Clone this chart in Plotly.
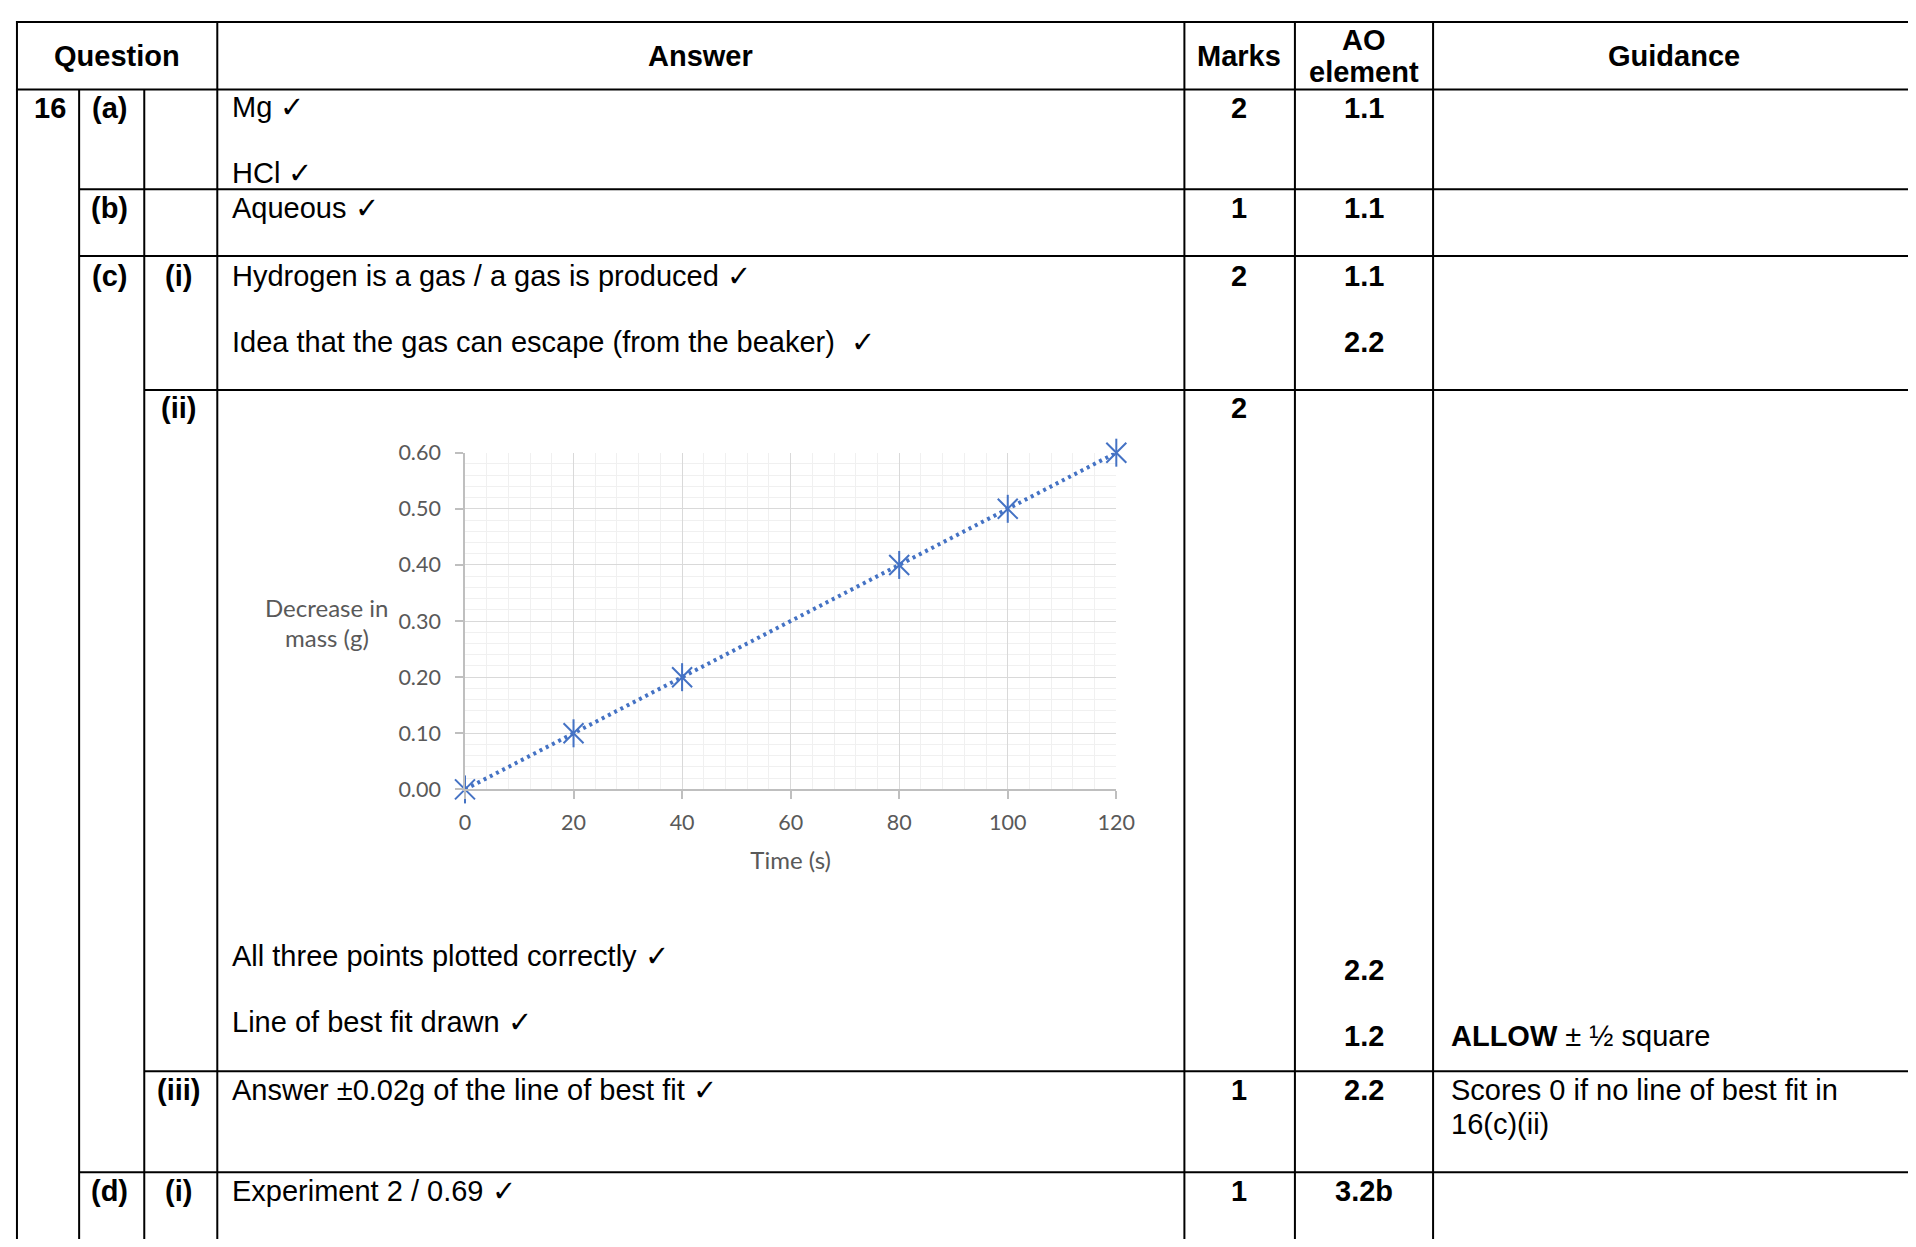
import plotly.graph_objects as go

# ---------------- data ----------------
time_s = [0, 20, 40, 80, 100, 120]
mass_decrease_g = [0.00, 0.10, 0.20, 0.40, 0.50, 0.60]
x_ticks = [0, 20, 40, 60, 80, 100, 120]
y_ticks = [0.0, 0.1, 0.2, 0.3, 0.4, 0.5, 0.6]

header_cells = ["Question", "Answer", "Marks", "AO", "element", "Guidance"]
col1_text = ["16"]
col2_text = ["(a)", "(b)", "(c)", "(d)"]
col3_text = ["(i)", "(ii)", "(iii)", "(i)"]
answer_text = [
    "Mg ✓", "HCl ✓", "Aqueous ✓",
    "Hydrogen is a gas / a gas is produced ✓",
    "Idea that the gas can escape (from the beaker)  ✓",
    "All three points plotted correctly ✓",
    "Line of best fit drawn ✓",
    "Answer ±0.02g of the line of best fit ✓",
    "Experiment 2 / 0.69 ✓",
]
marks_text = ["2", "1", "2", "2", "1", "1"]
ao_text = ["1.1", "1.1", "1.1", "2.2", "2.2", "1.2", "2.2", "3.2b"]
guidance_text = ["<b>ALLOW</b> ± ½ square", "Scores 0 if no line of best fit in", "16(c)(ii)"]

# ---------------- layout helpers ----------------
# page body keeps the browser's default 8px margin, so the figure is sized to fit the window
OFF = 8
W, H = 1916 - 2 * OFF, 1247 - 2 * OFF
def X(px): return (px - OFF) / W
def Y(py): return 1 - (py - OFF) / H

BLUE = "#4472C4"
GREY_TXT = "#595959"
TFONT = "Liberation Sans, Arial, sans-serif"
CFONT = "Lato, Carlito, Calibri, sans-serif"
FS = 29

fig = go.Figure()

# dotted best-fit line
fig.add_trace(go.Scatter(
    x=time_s, y=mass_decrease_g, mode="lines",
    line=dict(color=BLUE, width=4, dash="3px,4px"),
    showlegend=False, hoverinfo="skip", cliponaxis=False))
# star markers (x + vertical bar)
fig.add_trace(go.Scatter(
    x=time_s, y=mass_decrease_g, mode="markers",
    marker=dict(symbol="x-thin-open", size=20, color=BLUE, line=dict(color=BLUE, width=2)),
    showlegend=False, cliponaxis=False))
fig.add_trace(go.Scatter(
    x=time_s, y=mass_decrease_g, mode="markers",
    marker=dict(symbol="line-ns-open", size=20, color=BLUE, line=dict(color=BLUE, width=2)),
    showlegend=False, cliponaxis=False))

fig.update_layout(
    width=W, height=H, margin=dict(l=0, r=0, t=0, b=0),
    paper_bgcolor="white", plot_bgcolor="white",
    xaxis=dict(
        domain=[X(465), X(1125)], range=[0, 120], tickvals=x_ticks,
        showgrid=True, gridcolor="#d9d9d9", gridwidth=1.3,
        minor=dict(dtick=4, showgrid=True, gridcolor="#f0f0f0", gridwidth=1.2),
        showline=True, linecolor="#bfbfbf", linewidth=1.6,
        ticks="outside", ticklen=8, tickcolor="#bfbfbf", tickwidth=1.6,
        ticklabelstandoff=5,
        tickfont=dict(family=CFONT, size=21.5, color=GREY_TXT),
        zeroline=False, fixedrange=True,
        title=dict(text="Time (s)", font=dict(family=CFONT, size=24, color=GREY_TXT), standoff=18),
    ),
    yaxis=dict(
        domain=[Y(793), Y(449)], range=[0, 0.6], tickvals=y_ticks, tickformat=".2f",
        showgrid=True, gridcolor="#d9d9d9", gridwidth=1.3,
        minor=dict(dtick=0.02, showgrid=True, gridcolor="#f0f0f0", gridwidth=1.2),
        showline=True, linecolor="#bfbfbf", linewidth=1.6,
        ticks="outside", ticklen=8, tickcolor="#bfbfbf", tickwidth=1.6,
        ticklabelstandoff=10,
        tickfont=dict(family=CFONT, size=21.5, color=GREY_TXT),
        zeroline=False, fixedrange=True,
    ),
)

# ---------------- table borders ----------------
def hline(y, x0, x1=1930):
    fig.add_shape(type="line", xref="paper", yref="paper", x0=X(x0), x1=X(x1), y0=Y(y), y1=Y(y),
                  line=dict(color="black", width=2))
def vline(x, y0, y1=1260):
    fig.add_shape(type="line", xref="paper", yref="paper", x0=X(x), x1=X(x), y0=Y(y0), y1=Y(y1),
                  line=dict(color="black", width=2))

hline(9, 10); hline(78, 10); hline(180, 74); hline(248, 74)
hline(385, 140); hline(1081, 140); hline(1184, 74)
vline(11, 8); vline(74, 78); vline(140, 78)
vline(214, 8); vline(1194, 8); vline(1306, 8); vline(1446, 8)

# ---------------- text ----------------
def txt(s, x, y, bold=False, align="center", size=FS, family=TFONT, color="black"):
    fig.add_annotation(text=(f"<b>{s}</b>" if bold else s), x=X(x), y=Y(y), xref="paper", yref="paper",
                       xanchor=("center" if align == "center" else "left"), yanchor="middle",
                       showarrow=False, font=dict(family=family, size=size, color=color))

# header
txt(header_cells[0], 112, 44, bold=True)
txt(header_cells[1], 704, 44, bold=True)
txt(header_cells[2], 1249, 44, bold=True)
txt(header_cells[3], 1376, 27, bold=True)
txt(header_cells[4], 1376, 60, bold=True)
txt(header_cells[5], 1690, 44, bold=True)

# question numbering
txt(col1_text[0], 44, 97, bold=True)
for s, y in zip(col2_text, [97, 199, 268, 1203]):
    txt(s, 105, y, bold=True)
for s, y in zip(col3_text, [268, 403, 1100, 1203]):
    txt(s, 175, y, bold=True)

# answers
for s, y in zip(answer_text, [96, 163, 199, 268, 336, 963, 1031, 1100, 1203]):
    txt(s, 227, y, align="left")

# marks
for s, y in zip(marks_text, [97, 199, 268, 403, 1100, 1203]):
    txt(s, 1249, y, bold=True)

# AO
for s, y in zip(ao_text, [97, 199, 268, 336, 977, 1045, 1100, 1203]):
    txt(s, 1376, y, bold=True)

# guidance
for s, y in zip(guidance_text, [1045, 1100, 1135]):
    txt(s, 1462, y, align="left")

# chart y-axis title (horizontal, two lines)
txt("Decrease in", 325, 607, size=24, family=CFONT, color=GREY_TXT)
txt("mass (g)", 325, 638, size=24, family=CFONT, color=GREY_TXT)

fig.write_html("out.html")
